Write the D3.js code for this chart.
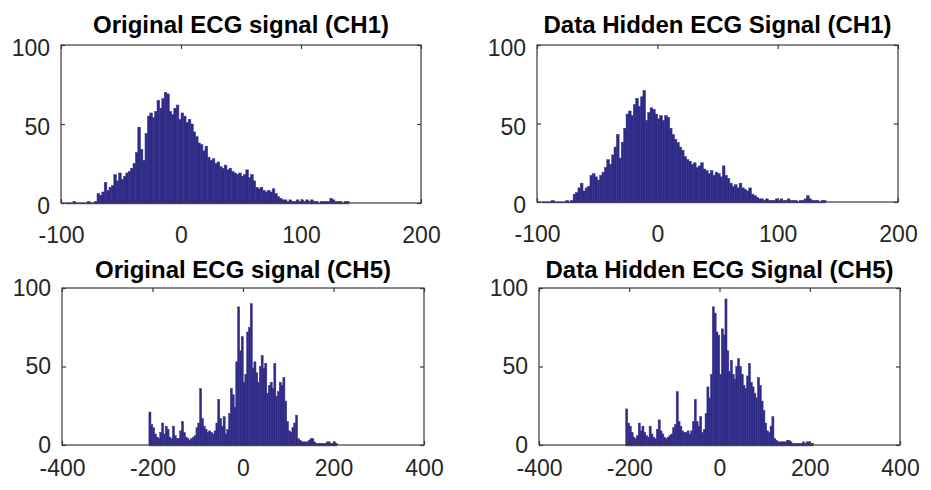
<!DOCTYPE html>
<html>
<head>
<meta charset="utf-8">
<script src="https://cdn.jsdelivr.net/npm/d3@7"></script>
<style>
  html, body { margin: 0; padding: 0; background: #fff; }
  svg { display: block; }
</style>
</head>
<body>
<svg id="chart" width="931" height="490"></svg>
<script>
// ---------------- DATA ----------------
const panelTitles = [
  "Original ECG signal (CH1)",
  "Data Hidden ECG Signal (CH1)",
  "Original ECG signal (CH5)",
  "Data Hidden ECG Signal (CH5)"
];

// CH1 histograms: bin centres start at -95, step 2
const ch1BinStart = -95;
const ch1BinWidth = 2;
const ch1Original = [
  0,0,0,1,0,0,0,0,0,1,
  0,0,1,6,5,7,13,8,10,11,
  18,14,19,15,17,19,20,22,25,32,
  48,34,27,44,55,57,54,58,65,60,
  66,70,69,58,56,60,62,53,57,55,
  51,53,50,45,42,38,37,33,36,29,
  27,28,25,26,23,22,24,21,22,20,
  19,18,19,17,18,21,16,18,14,10,
  9,10,8,7,8,7,9,6,4,3,
  2,2,1,2,1,1,2,1,2,1,
  2,1,2,1,1,0,1,1,1,1,
  3,2,1,1,1,0,1,1
];
const ch1Hidden = [
  0,0,0,0,1,0,0,0,0,0,
  1,0,1,5,6,9,12,7,9,10,
  17,18,16,14,17,19,22,27,24,30,
  35,43,28,38,47,56,58,55,62,66,
  61,67,71,52,57,60,59,56,53,55,
  52,55,54,47,43,40,38,35,33,29,
  27,26,24,25,22,23,25,21,20,18,
  20,17,19,18,16,23,17,15,12,10,
  11,9,12,9,8,7,9,5,4,3,
  2,2,1,2,1,1,1,2,1,2,
  1,1,2,1,1,1,0,1,1,2,
  4,2,1,1,1,0,1,1
];

// CH5 histograms: bin centres start at -206, step 4
const ch5BinStart = -206;
const ch5BinWidth = 4;
const ch5Original = [
  21,13,11,7,5,4,8,14,7,12,
  10,5,4,12,6,4,4,9,15,8,
  5,4,3,4,5,6,11,14,36,17,
  12,10,8,9,8,7,9,14,29,17,
  12,18,7,10,20,36,32,24,53,88,
  60,69,40,45,72,75,90,49,53,46,
  40,50,57,49,52,33,38,40,36,52,
  31,34,40,38,43,28,15,9,8,11,
  14,19,4,3,2,2,2,2,3,4,
  4,2,1,1,1,1,1,1,2,2,
  1,1,2,1
];
const ch5Hidden = [
  23,14,12,8,5,4,6,14,9,12,
  8,6,5,12,7,5,4,10,16,9,
  7,5,4,5,6,7,11,13,34,15,
  12,9,8,8,9,7,9,15,29,15,
  12,18,8,10,20,37,30,45,88,84,
  72,70,45,74,70,93,60,47,54,45,
  42,50,55,50,45,38,36,44,52,40,
  37,33,30,43,38,28,22,14,9,8,
  12,18,4,3,2,2,2,2,2,3,
  3,2,1,1,1,1,1,1,2,1,
  2,2,1,1
];

const ch1XTicks = [-100, 0, 100, 200];
const ch5XTicks = [-400, -200, 0, 200, 400];
const ch1XDomain = [-100, 200];
const ch5XDomain = [-400, 400];
const yTicks = [0, 50, 100];
const yDomain = [0, 100];

// ---------------- LAYOUT ----------------
const panels = [
  { title: panelTitles[0], values: ch1Original, start: ch1BinStart, width: ch1BinWidth, xDomain: ch1XDomain, xTicks: ch1XTicks,
    box: { x0: 61, x1: 421, y0: 45, y1: 203 }, titleY: 33, xPad: 24, yLabelShift: 3.5 },
  { title: panelTitles[1], values: ch1Hidden, start: ch1BinStart, width: ch1BinWidth, xDomain: ch1XDomain, xTicks: ch1XTicks,
    box: { x0: 537, x1: 898, y0: 45, y1: 202 }, titleY: 33, xPad: 24, yLabelShift: 3.5 },
  { title: panelTitles[2], values: ch5Original, start: ch5BinStart, width: ch5BinWidth, xDomain: ch5XDomain, xTicks: ch5XTicks,
    box: { x0: 62, x1: 424, y0: 288, y1: 445 }, titleY: 278, xPad: 15, yLabelShift: 0 },
  { title: panelTitles[3], values: ch5Hidden, start: ch5BinStart, width: ch5BinWidth, xDomain: ch5XDomain, xTicks: ch5XTicks,
    box: { x0: 539, x1: 900, y0: 288, y1: 445 }, titleY: 278, xPad: 15, yLabelShift: 0 }
];

const FONT = "'Liberation Sans', Arial, Helvetica, sans-serif";
const barFill = "#2e2a84";
const barEdge = "#3a3694";
const axisColor = "#3a3a3a";
const labelColor = "#262626";
const fmt = d => String(d);   // plain hyphen-minus like the original

const svg = d3.select("#chart");
svg.append("rect").attr("width", 931).attr("height", 490).attr("fill", "#fff");

panels.forEach(p => {
  const b = p.box;
  const x = d3.scaleLinear().domain(p.xDomain).range([b.x0, b.x1]);
  const y = d3.scaleLinear().domain(yDomain).range([b.y1, b.y0]);
  const g = svg.append("g");

  const bins = p.values.map((v, i) => ({ c: p.start + i * p.width, v }));

  // baseline under the data range (zero-height bars show as an edge line)
  g.append("line")
    .attr("x1", x(bins[0].c - p.width / 2))
    .attr("x2", x(bins[bins.length - 1].c + p.width / 2))
    .attr("y1", y(0) + 0.5).attr("y2", y(0) + 0.5)
    .attr("stroke", "#5652ad").attr("stroke-width", 1.6);

  // bars
  g.append("g").selectAll("rect").data(bins).join("rect")
    .attr("x", d => x(d.c - p.width / 2))
    .attr("width", d => x(d.c + p.width / 2) - x(d.c - p.width / 2) + 0.3)
    .attr("y", d => y(d.v))
    .attr("height", d => y(0) - y(d.v))
    .attr("fill", barFill)
    .attr("stroke", barEdge)
    .attr("stroke-width", 0.5);

  // box
  g.append("rect")
    .attr("x", b.x0).attr("y", b.y0)
    .attr("width", b.x1 - b.x0).attr("height", b.y1 - b.y0)
    .attr("fill", "none").attr("stroke", axisColor).attr("stroke-width", 1.2);

  // bottom axis (inward ticks)
  const xAxis = g.append("g").attr("transform", `translate(0,${b.y1})`)
    .call(d3.axisBottom(x).tickValues(p.xTicks).tickSizeInner(-4).tickSizeOuter(0).tickPadding(p.xPad).tickFormat(fmt));
  // top ticks
  const xTop = g.append("g").attr("transform", `translate(0,${b.y0})`)
    .call(d3.axisTop(x).tickValues(p.xTicks).tickSizeInner(-4).tickSizeOuter(0).tickFormat(""));
  // left axis
  const yAxis = g.append("g").attr("transform", `translate(${b.x0},0)`)
    .call(d3.axisLeft(y).tickValues(yTicks).tickSizeInner(-4).tickSizeOuter(0).tickPadding(11).tickFormat(fmt));
  // right ticks
  const yRight = g.append("g").attr("transform", `translate(${b.x1},0)`)
    .call(d3.axisRight(y).tickValues(yTicks).tickSizeInner(-4).tickSizeOuter(0).tickFormat(""));

  [xAxis, xTop, yAxis, yRight].forEach(a => {
    a.select(".domain").remove();
    a.selectAll(".tick line").attr("stroke", axisColor).attr("stroke-width", 1.2);
  });
  [xAxis, yAxis].forEach(a => {
    a.selectAll(".tick text")
      .attr("fill", labelColor)
      .style("font-family", FONT)
      .style("font-size", "23px");
  });
  yAxis.selectAll(".tick text").attr("transform", `translate(0,${p.yLabelShift})`);

  // title
  g.append("text")
    .attr("x", (b.x0 + b.x1) / 2)
    .attr("y", p.titleY)
    .attr("text-anchor", "middle")
    .attr("fill", "#000")
    .style("font-family", FONT)
    .style("font-weight", "bold")
    .style("font-size", "24px")
    .text(p.title);
});
</script>
</body>
</html>
